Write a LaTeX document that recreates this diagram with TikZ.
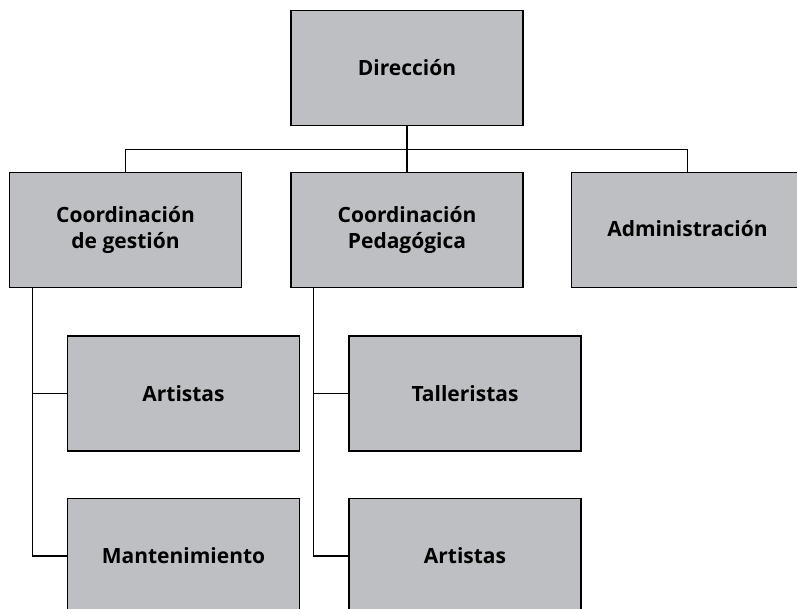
\documentclass[tikz,border=0pt]{standalone}
\usepackage{fontspec}
\setmainfont{Open Sans}
\definecolor{boxgray}{RGB}{190,191,194}
\begin{document}
\begin{tikzpicture}[x=1pt,y=-1pt,
  orgbox/.style={draw=black,line width=1.4pt,fill=boxgray,rectangle,
    minimum width=232pt,minimum height=115pt,inner sep=0pt,align=center,
    font=\fontsize{21}{26}\selectfont\bfseries},
  link/.style={draw=black,line width=1.3pt}]
\useasboundingbox (0,0) rectangle (797,609);
\clip (0,0) rectangle (797,609);
\node[orgbox] (dir) at (407,68.2) {\raisebox{1.5pt}{Dirección}};
\node[orgbox] (cg) at (125.5,230) {Coordinación\\de gestión};
\node[orgbox] (cp) at (407,230) {Coordinación\\Pedagógica};
\node[orgbox] (adm) at (687.5,230) {\raisebox{4pt}{Administración}};
\node[orgbox] (art1) at (183.5,393.4) {Artistas};
\node[orgbox] (tal) at (465,393.4) {Talleristas};
\node[orgbox] (man) at (183.5,556) {Mantenimiento};
\node[orgbox] (art2) at (465,556) {Artistas};
\coordinate (bus) at (407,149.3);
\draw[link] (dir.south) -- (cp.north);
\draw[link] (cg.north) |- (bus) -| (adm.north);
\draw[link] ([xshift=23.4pt]cg.south west) |- (art1.west);
\draw[link] ([xshift=23.4pt]cg.south west) |- (man.west);
\draw[link] ([xshift=23.4pt]cp.south west) |- (tal.west);
\draw[link] ([xshift=23.4pt]cp.south west) |- (art2.west);
\end{tikzpicture}
\end{document}
